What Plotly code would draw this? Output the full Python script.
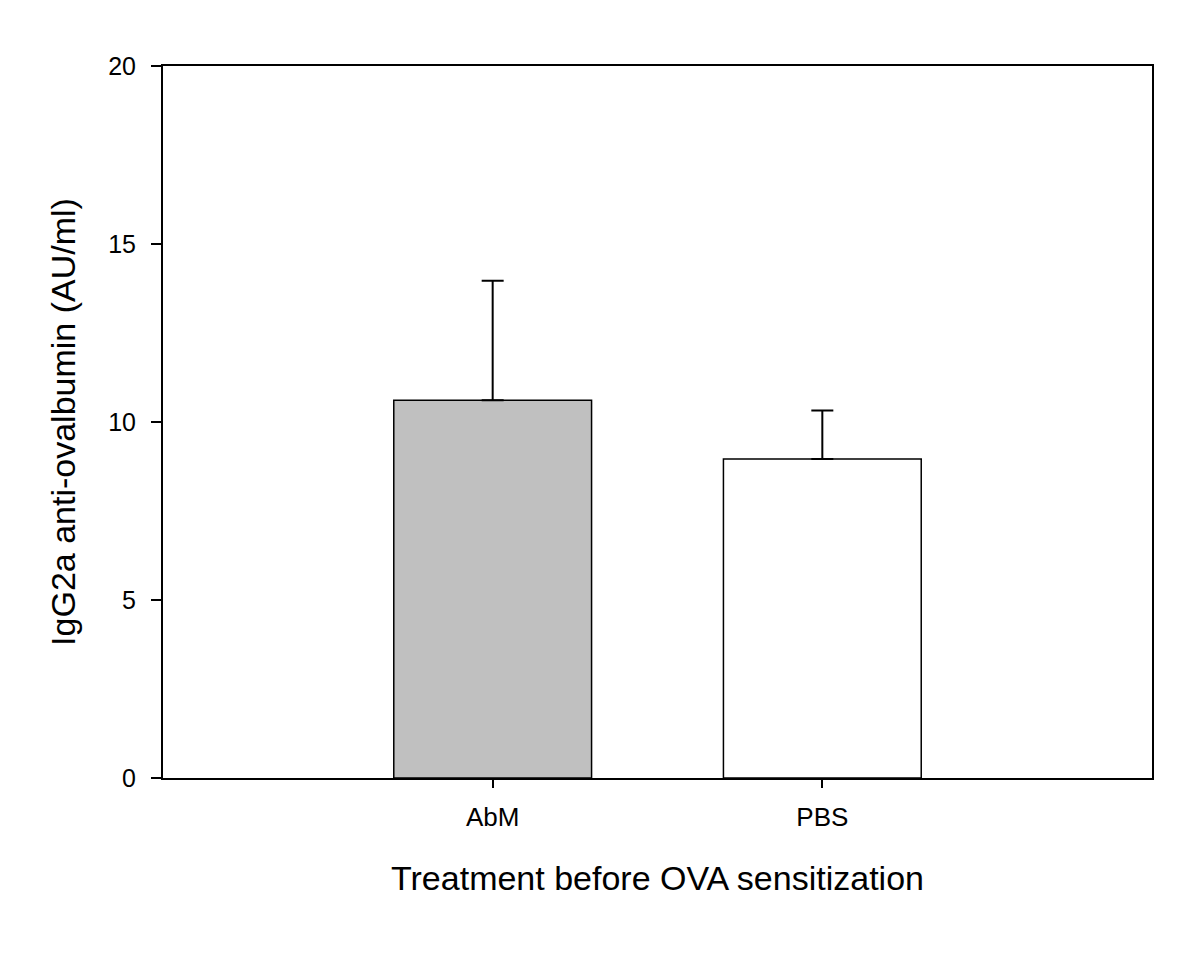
import plotly.graph_objects as go

categories = ["AbM", "PBS"]
values = [10.61, 8.96]
errors_up = [3.36, 1.36]
fill_colors = ["#c0c0c0", "#ffffff"]
y_ticks = [0, 5, 10, 15, 20]

fig = go.Figure()
fig.add_trace(go.Bar(
    x=categories,
    y=values,
    width=0.6,
    marker=dict(color=fill_colors, line=dict(color="black", width=1.5)),
    error_y=dict(type="data", symmetric=False, array=errors_up,
                 arrayminus=[0, 0], color="black", thickness=2, width=11),
    showlegend=False,
))

font_family = "Liberation Sans, Arial, sans-serif"
fig.update_layout(
    width=1200, height=957,
    margin=dict(l=155, r=56, t=58, b=187),
    plot_bgcolor="white", paper_bgcolor="white",
    font=dict(family=font_family, color="black"),
    xaxis=dict(
        type="category", range=[-1, 2],
        showline=True, linecolor="black", linewidth=2, mirror=True,
        ticks="outside", ticklen=8, tickwidth=2, tickcolor="black",
        tickfont=dict(size=26), ticklabelstandoff=7,
        showgrid=False, zeroline=False,
        title=dict(text="Treatment before OVA sensitization",
                   font=dict(size=34), standoff=35),
    ),
    yaxis=dict(
        range=[0, 20], tickvals=y_ticks,
        showline=True, linecolor="black", linewidth=2, mirror=True,
        ticks="outside", ticklen=10, tickwidth=2, tickcolor="black",
        tickfont=dict(size=25), ticklabelstandoff=10,
        showgrid=False, zeroline=False,
        title=dict(text="IgG2a anti-ovalbumin (AU/ml)",
                   font=dict(size=34), standoff=22),
    ),
)

fig.write_html("out.html")
